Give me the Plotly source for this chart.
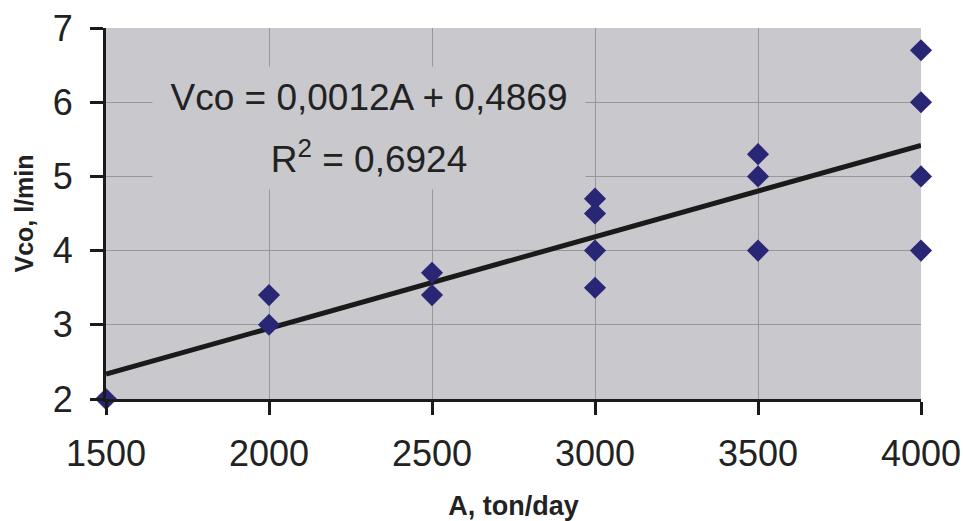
import numpy as np
import plotly.graph_objects as go

# Data
A_values = [1500, 2000, 2000, 2500, 2500, 3000, 3000, 3000, 3000,
            3500, 3500, 3500, 4000, 4000, 4000, 4000]
Vco_values = [2.0, 3.0, 3.4, 3.4, 3.7, 3.5, 4.0, 4.5, 4.7,
              4.0, 5.0, 5.3, 4.0, 5.0, 6.0, 6.7]
x_ticks = [1500, 2000, 2500, 3000, 3500, 4000]
y_ticks = [2, 3, 4, 5, 6, 7]
x_grid = [2000, 2500, 3000, 3500]
y_grid = [3, 4, 5, 6]
eq_text = "Vco = 0,0012A + 0,4869"
r2_text = "R<sup>2</sup> = 0,6924"

# linear trendline (least squares) from the data
slope, intercept = np.polyfit(A_values, Vco_values, 1)
trend_x = [min(x_ticks), max(x_ticks)]
trend_y = [slope * v + intercept for v in trend_x]

PLOT_BG = "rgb(200,200,205)"
FONT = "Liberation Sans, Arial, sans-serif"

fig = go.Figure()
fig.add_trace(go.Scatter(x=trend_x, y=trend_y, mode="lines",
                         line=dict(color="#1a1a1a", width=5),
                         hoverinfo="skip", showlegend=False))
fig.add_trace(go.Scatter(x=A_values, y=Vco_values, mode="markers",
                         marker=dict(symbol="diamond", size=17, color="#2a2676",
                                     line=dict(width=0)),
                         showlegend=False, cliponaxis=False))

fig.add_annotation(xref="paper", yref="paper", x=0.3227, y=1 - (97.5 - 28) / 371,
                   text=eq_text, showarrow=False, bgcolor=PLOT_BG,
                   width=432, height=61, borderpad=0,
                   font=dict(family=FONT, size=37, color="#222"),
                   xanchor="center", yanchor="middle")
fig.add_annotation(xref="paper", yref="paper", x=0.3227, y=1 - (157 - 28) / 371,
                   text=r2_text, showarrow=False, bgcolor=PLOT_BG,
                   width=432, height=64, borderpad=0,
                   font=dict(family=FONT, size=37, color="#222"),
                   xanchor="center", yanchor="middle")

axis_common = dict(showline=True, linewidth=3, linecolor="#1a1a1a",
                   ticks="outside", ticklen=13, tickwidth=3, tickcolor="#1a1a1a",
                   showgrid=False, zeroline=False, automargin=False,
                   ticklabeloverflow="allow",
                   tickfont=dict(family=FONT, size=36, color="#222"))

fig.update_xaxes(range=[1500, 4000], tickvals=x_ticks,
                 ticktext=[str(v) for v in x_ticks],
                 minor=dict(tickvals=x_grid, showgrid=True, ticks="",
                            gridcolor="rgb(150,150,156)", gridwidth=1),
                 title=dict(text="<b>A, ton/day</b>", standoff=24,
                            font=dict(family=FONT, size=27, color="#222")),
                 ticklabelstandoff=8,
                 **axis_common)
fig.update_yaxes(range=[2, 7], tickvals=y_ticks,
                 ticktext=[str(v) for v in y_ticks],
                 minor=dict(tickvals=y_grid, showgrid=True, ticks="",
                            gridcolor="rgb(150,150,156)", gridwidth=1),
                 title=dict(text="<b>Vco, l/min</b>", standoff=13,
                            font=dict(family=FONT, size=25, color="#222")),
                 ticklabelstandoff=10,
                 **axis_common)

fig.update_layout(width=963, height=521,
                  margin=dict(l=106, r=42, t=28, b=122),
                  plot_bgcolor=PLOT_BG, paper_bgcolor="white",
                  font=dict(family=FONT))

# remove the default page margin so the 963x521 figure fills the window exactly
fig.write_html("out.html",
               config={"displayModeBar": False},
               post_script="document.body.style.margin='0';"
                           "document.body.style.overflow='hidden';")
